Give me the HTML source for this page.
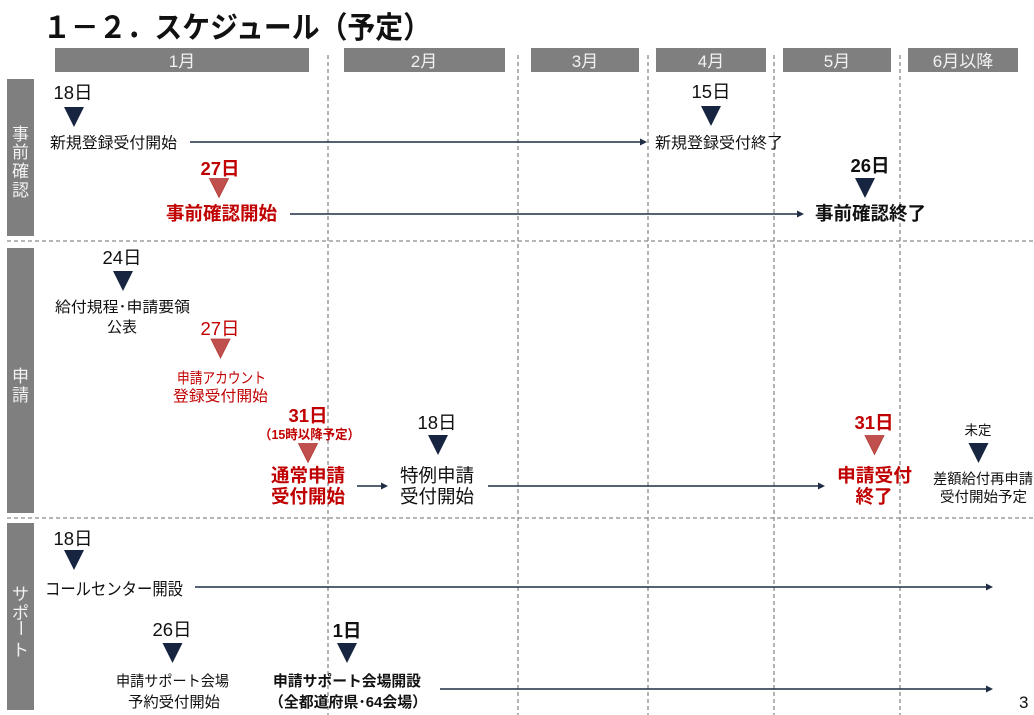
<!DOCTYPE html>
<html><head><meta charset="utf-8"><style>
html,body{margin:0;padding:0;background:#fff;}
svg{display:block;}
text{font-family:"Liberation Sans","Noto Sans CJK JP",sans-serif;}
.b{font-weight:bold;}
.r{fill:#c00000;}
.k{fill:#111;}
.w{fill:#f2f2f2;}
</style></head><body>
<svg width="1034" height="715" viewBox="0 0 1034 715" xmlns="http://www.w3.org/2000/svg">
<defs>
<polygon id="tn" points="0,0 20,0 10,20" fill="#172540"/>
<polygon id="tr" points="0,0 19,0 9.5,19" fill="#c0504d" stroke="#b23a36" stroke-width="0.8"/>
</defs>
<!-- title -->
<text x="43" y="38" font-size="30" class="b k" textLength="388" lengthAdjust="spacingAndGlyphs">１－２．スケジュール（予定）</text>

<!-- month bars -->
<g fill="#7f7f7f">
<rect x="55" y="48" width="254" height="24"/>
<rect x="344" y="48" width="161" height="24"/>
<rect x="531" y="48" width="108" height="24"/>
<rect x="656" y="48" width="110" height="24"/>
<rect x="783" y="48" width="108" height="24"/>
<rect x="908" y="48" width="110" height="24"/>
</g>
<g font-size="17" class="w" text-anchor="middle">
<text x="182" y="67">1月</text>
<text x="424" y="67">2月</text>
<text x="585" y="67">3月</text>
<text x="711" y="67">4月</text>
<text x="837" y="67">5月</text>
<text x="963" y="67">6月以降</text>
</g>

<!-- dashed lines -->
<g stroke="#8a8a8a" stroke-width="1.3" stroke-dasharray="4,3" fill="none">
<line x1="328" y1="55" x2="328" y2="715"/>
<line x1="518" y1="55" x2="518" y2="715"/>
<line x1="648" y1="55" x2="648" y2="715"/>
<line x1="774" y1="55" x2="774" y2="715"/>
<line x1="900" y1="55" x2="900" y2="715"/>
<line x1="7" y1="241" x2="1034" y2="241"/>
<line x1="7" y1="518" x2="1034" y2="518"/>
</g>

<!-- category bars -->
<g fill="#7f7f7f">
<rect x="7" y="79" width="27" height="157"/>
<rect x="7" y="248" width="27" height="265"/>
<rect x="7" y="523" width="27" height="187"/>
</g>
<g font-size="17" class="w" text-anchor="middle">
<text x="20.5" y="140">事</text>
<text x="20.5" y="158">前</text>
<text x="20.5" y="177">確</text>
<text x="20.5" y="196">認</text>
<text x="20.5" y="382">申</text>
<text x="20.5" y="401">請</text>
<text x="20.5" y="600">サ</text>
<text x="20.5" y="619">ポ</text>
<text x="0" y="0" transform="translate(14.5,628) rotate(90)" text-anchor="middle">ー</text>
<text x="20.5" y="656">ト</text>
</g>

<!-- arrows -->
<g stroke="#1f2d45" stroke-width="1.6">
<line x1="190" y1="142" x2="641" y2="142"/>
<line x1="290" y1="214" x2="798" y2="214"/>
<line x1="357" y1="486" x2="382" y2="486"/>
<line x1="488" y1="486" x2="819" y2="486"/>
<line x1="195" y1="587" x2="987" y2="587"/>
<line x1="440" y1="689" x2="987" y2="689"/>
</g>
<g fill="#1f2d45">
<polygon points="640,138.5 647,142 640,145.5"/>
<polygon points="797,210.5 804,214 797,217.5"/>
<polygon points="381,482.5 388,486 381,489.5"/>
<polygon points="818,482.5 825,486 818,489.5"/>
<polygon points="986,583.5 993,587 986,590.5"/>
<polygon points="986,685.5 993,689 986,692.5"/>
</g>

<!-- Row 1 -->
<text x="73" y="99" font-size="18.5" class="k" text-anchor="middle">18日</text>
<use href="#tn" x="64" y="107"/>
<text x="50" y="148" font-size="15.5" class="k" textLength="127" lengthAdjust="spacingAndGlyphs">新規登録受付開始</text>

<text x="711" y="98" font-size="18.5" class="k" text-anchor="middle">15日</text>
<use href="#tn" x="701" y="106"/>
<text x="655" y="148" font-size="15.5" class="k" textLength="128" lengthAdjust="spacingAndGlyphs">新規登録受付終了</text>

<text x="220" y="175" font-size="18.5" class="b r" text-anchor="middle">27日</text>
<use href="#tr" x="209.5" y="178.5"/>
<text x="166" y="220" font-size="18.5" class="b r" textLength="111" lengthAdjust="spacingAndGlyphs">事前確認開始</text>

<text x="870" y="172" font-size="18.5" class="b k" text-anchor="middle">26日</text>
<use href="#tn" x="855" y="178"/>
<text x="815" y="220" font-size="18.5" class="b k" textLength="111" lengthAdjust="spacingAndGlyphs">事前確認終了</text>

<!-- Row 2 -->
<text x="122" y="264" font-size="18.5" class="k" text-anchor="middle">24日</text>
<use href="#tn" x="113" y="271"/>
<text x="55" y="312" font-size="15" class="k" textLength="135" lengthAdjust="spacingAndGlyphs">給付規程･申請要領</text>
<text x="122" y="332" font-size="15" class="k" text-anchor="middle">公表</text>

<text x="220" y="335" font-size="18.5" class="r" text-anchor="middle">27日</text>
<use href="#tr" x="211" y="339"/>
<text x="177" y="383" font-size="15" class="r" textLength="89" lengthAdjust="spacingAndGlyphs">申請アカウント</text>
<text x="173" y="401" font-size="15" class="r" textLength="95" lengthAdjust="spacingAndGlyphs">登録受付開始</text>

<text x="308" y="422" font-size="18.5" class="b r" text-anchor="middle">31日</text>
<text x="259" y="439" font-size="13" class="b r" textLength="101" lengthAdjust="spacingAndGlyphs">（15時以降予定）</text>
<use href="#tr" x="298.5" y="443.5"/>
<text x="271" y="482" font-size="18.5" class="b r" textLength="74" lengthAdjust="spacingAndGlyphs">通常申請</text>
<text x="271" y="503" font-size="18.5" class="b r" textLength="74" lengthAdjust="spacingAndGlyphs">受付開始</text>

<text x="437" y="429" font-size="18.5" class="k" text-anchor="middle">18日</text>
<use href="#tn" x="428" y="435"/>
<text x="400" y="482" font-size="18.5" class="k" textLength="74" lengthAdjust="spacingAndGlyphs">特例申請</text>
<text x="400" y="503" font-size="18.5" class="k" textLength="74" lengthAdjust="spacingAndGlyphs">受付開始</text>

<text x="874" y="429" font-size="18.5" class="b r" text-anchor="middle">31日</text>
<use href="#tr" x="865" y="435.5"/>
<text x="837" y="482" font-size="18.5" class="b r" textLength="75" lengthAdjust="spacingAndGlyphs">申請受付</text>
<text x="874" y="503" font-size="18.5" class="b r" text-anchor="middle">終了</text>

<text x="978" y="435" font-size="13.5" class="k" text-anchor="middle">未定</text>
<use href="#tn" x="968.5" y="443"/>
<text x="933" y="484" font-size="14.5" class="k" textLength="100" lengthAdjust="spacingAndGlyphs">差額給付再申請</text>
<text x="940" y="502" font-size="14.5" class="k" textLength="87" lengthAdjust="spacingAndGlyphs">受付開始予定</text>

<!-- Row 3 -->
<text x="73" y="545" font-size="18.5" class="k" text-anchor="middle">18日</text>
<use href="#tn" x="64" y="550"/>
<text x="45" y="595" font-size="17" class="k" textLength="138" lengthAdjust="spacingAndGlyphs">コールセンター開設</text>

<text x="172" y="636" font-size="18.5" class="k" text-anchor="middle">26日</text>
<use href="#tn" x="162.5" y="643"/>
<text x="116" y="686" font-size="15" class="k" textLength="113" lengthAdjust="spacingAndGlyphs">申請サポート会場</text>
<text x="128" y="707" font-size="15" class="k" textLength="92" lengthAdjust="spacingAndGlyphs">予約受付開始</text>

<text x="347" y="637" font-size="18.5" class="b k" text-anchor="middle">1日</text>
<use href="#tn" x="337" y="643"/>
<text x="273" y="686" font-size="15" class="b k" textLength="148" lengthAdjust="spacingAndGlyphs">申請サポート会場開設</text>
<text x="269" y="707" font-size="15" class="b k" textLength="158" lengthAdjust="spacingAndGlyphs">（全都道府県･64会場）</text>

<text x="1019" y="708" font-size="17" class="k">3</text>
</svg>
</body></html>
